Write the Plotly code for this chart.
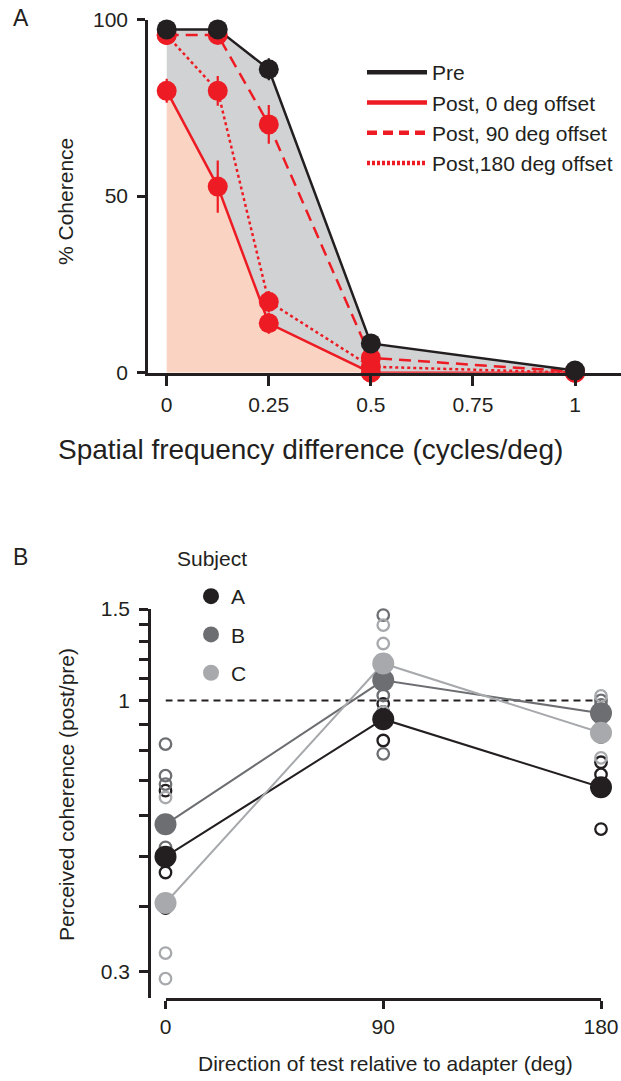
import math
import plotly.graph_objects as go

# ---------------- Panel A data ----------------
SF_DIFF = [0, 0.125, 0.25, 0.5, 1]
PRE = [97.2, 97.2, 85.9, 8.3, 0.6]
PRE_ERR = [1.0, 1.0, 3.1, 1.5, 0.5]
POST_0 = [79.8, 52.7, 14.0, 0.0, 0.0]
POST_0_ERR = [3.4, 7.4, 3.0, 0.5, 0.0]
POST_90 = [95.6, 95.6, 70.3, 4.2, 0.3]
POST_90_ERR = [1.0, 1.0, 5.5, 1.0, 0.0]
POST_180 = [95.6, 79.8, 20.1, 1.7, 0.0]
POST_180_ERR = [1.0, 4.2, 3.0, 1.0, 0.0]
A_TICKS = [0, 0.25, 0.5, 0.75, 1]
A_TICKTEXT = ["0", "0.25", "0.5", "0.75", "1"]
A_YTICKS = [0, 50, 100]
LEGEND_A = ["Pre", "Post, 0 deg offset", "Post, 90 deg offset", "Post,180 deg offset"]

# ---------------- Panel B data ----------------
DIRECTIONS = [0, 90, 180]
SUBJECTS = ["A", "B", "C"]
MEAN_A = [0.50, 0.92, 0.68]
MEAN_B = [0.577, 1.093, 0.945]
MEAN_C = [0.407, 1.178, 0.866]
IND_A_0 = [0.67, 0.466, 0.398]
IND_A_90 = [0.985, 0.837, 0.95]
IND_A_180 = [0.565, 0.76, 0.72]
IND_B_0 = [0.824, 0.716, 0.69, 0.521]
IND_B_90 = [1.46, 1.022, 0.789]
IND_B_180 = [1.0, 0.98, 0.85]
IND_C_0 = [0.65, 0.326, 0.291]
IND_C_90 = [1.397, 1.287, 0.95]
IND_C_180 = [1.02, 0.775, 0.86]
B_YTICKS = [0.3, 0.4, 0.5, 0.6, 0.7, 0.8, 0.9, 1.0, 1.1, 1.2, 1.3, 1.4, 1.5]
B_YTICKTEXT = ["0.3", "", "", "", "", "", "", "1", "", "", "", "", "1.5"]
REFERENCE_RATIO = 1.0

# ---------------- styles ----------------
W, H = 621, 1081
BLACK = "#231f20"
RED = "#ed1c24"
SALMON = "#fad3c3"
GRAYFILL = "#d1d2d3"
SUBJ_COLORS = {"A": "#231f20", "B": "#6d6e71", "C": "#a7a9ac"}
FONT = "Liberation Sans, Arial, Helvetica, sans-serif"
FS = 21


def px(x):
    return x / W


def py(y):
    return 1 - y / H


fig = go.Figure()

# --- Panel A fills ---
fig.add_trace(go.Scatter(x=SF_DIFF, y=POST_0, mode="none", fill="tozeroy",
                         fillcolor=SALMON, showlegend=False, hoverinfo="skip",
                         xaxis="x", yaxis="y"))
fig.add_trace(go.Scatter(x=SF_DIFF, y=PRE, mode="none", fill="tonexty",
                         fillcolor=GRAYFILL, showlegend=False, hoverinfo="skip",
                         xaxis="x", yaxis="y"))

# --- Panel A lines ---
series = [
    (POST_180, POST_180_ERR, RED, "dot"),
    (POST_90, POST_90_ERR, RED, "12px,7px"),
    (POST_0, POST_0_ERR, RED, "solid"),
    (PRE, PRE_ERR, BLACK, "solid"),
]
for ys, err, col, dash in series:
    fig.add_trace(go.Scatter(
        x=SF_DIFF, y=ys, mode="lines",
        line=dict(color=col, width=2.5, dash=dash),
        showlegend=False, cliponaxis=False, xaxis="x", yaxis="y"))
for ys, err, col, dash in series:
    fig.add_trace(go.Scatter(
        x=SF_DIFF, y=ys, mode="markers",
        marker=dict(color=col, size=20),
        error_y=dict(type="data", array=err, visible=True, color=col,
                     thickness=2.2, width=0),
        showlegend=False, cliponaxis=False, xaxis="x", yaxis="y"))

# legend-only traces for panel A
leg_styles = [(BLACK, "solid"), (RED, "solid"), (RED, "10px,6px"), (RED, "3px,2px")]
for name, (col, dash) in zip(LEGEND_A, leg_styles):
    fig.add_trace(go.Scatter(x=[None], y=[None], mode="lines", name=name,
                             line=dict(color=col, width=4.5, dash=dash),
                             legend="legend", xaxis="x", yaxis="y"))

# --- Panel B ---
fig.add_trace(go.Scatter(x=[DIRECTIONS[0], DIRECTIONS[-1]],
                         y=[REFERENCE_RATIO, REFERENCE_RATIO], mode="lines",
                         line=dict(color=BLACK, width=2, dash="7px,5px"),
                         showlegend=False, xaxis="x2", yaxis="y2"))

individual = {
    "A": [IND_A_0, IND_A_90, IND_A_180],
    "B": [IND_B_0, IND_B_90, IND_B_180],
    "C": [IND_C_0, IND_C_90, IND_C_180],
}
means = {"A": MEAN_A, "B": MEAN_B, "C": MEAN_C}

for s in SUBJECTS:
    xs, ys = [], []
    for d, vals in zip(DIRECTIONS, individual[s]):
        xs += [d] * len(vals)
        ys += vals
    fig.add_trace(go.Scatter(x=xs, y=ys, mode="markers",
                             marker=dict(symbol="circle-open", size=11.5,
                                         color=SUBJ_COLORS[s],
                                         line=dict(width=2.3, color=SUBJ_COLORS[s])),
                             showlegend=False, cliponaxis=False,
                             xaxis="x2", yaxis="y2"))

for s in ["B", "A", "C"]:
    fig.add_trace(go.Scatter(x=DIRECTIONS, y=means[s], mode="lines",
                             line=dict(color=SUBJ_COLORS[s], width=2),
                             showlegend=False, cliponaxis=False,
                             xaxis="x2", yaxis="y2"))
for s in ["B", "A", "C"]:
    fig.add_trace(go.Scatter(x=DIRECTIONS, y=means[s], mode="markers",
                             marker=dict(color=SUBJ_COLORS[s], size=22),
                             showlegend=False, cliponaxis=False,
                             xaxis="x2", yaxis="y2"))

for s in SUBJECTS:
    fig.add_trace(go.Scatter(x=[None], y=[None], mode="markers", name=s,
                             legendgroup=s,
                             marker=dict(color=SUBJ_COLORS[s], size=22),
                             legend="legend2", xaxis="x2", yaxis="y2"))

axis_common = dict(showgrid=False, zeroline=False, showline=True,
                   automargin=False,
                   linecolor=BLACK, linewidth=2.5, ticks="outside",
                   tickcolor=BLACK, tickwidth=2.5,
                   tickfont=dict(size=FS, color=BLACK, family=FONT))

x0_px, x1_px = 166.7, 575.0
scale = (x1_px - x0_px) / 1.0

ylog_top = math.log10(1.5)
ylog_bot = ylog_top - (998 - 609) / 519.0


def ann(text, x, y, size=FS, angle=0):
    return dict(text=text, x=px(x), y=py(y), xref="paper", yref="paper",
                xanchor="center", yanchor="middle", textangle=angle,
                showarrow=False, font=dict(size=size, family=FONT, color=BLACK))


fig.update_layout(
    template="none",
    width=W, height=H, autosize=False,
    margin=dict(l=0, r=0, t=0, b=0, pad=0, autoexpand=False),
    paper_bgcolor="white", plot_bgcolor="rgba(0,0,0,0)",
    font=dict(family=FONT, size=FS, color=BLACK),
    xaxis=dict(domain=[px(148), 1.0],
               range=[(148 - x0_px) / scale, (621 - x0_px) / scale],
               tickvals=A_TICKS, ticktext=A_TICKTEXT, ticklen=11,
               anchor="y", **axis_common),
    yaxis=dict(domain=[py(372.7), py(19.5)], range=[0, 100],
               tickvals=A_YTICKS, ticklen=8, anchor="x",
               ticklabelstandoff=5, **axis_common),
    xaxis2=dict(domain=[px(165.5), px(601)], range=[0, 180],
                tickvals=DIRECTIONS, ticklen=8, anchor="y2", **axis_common),
    yaxis2=dict(domain=[py(998), py(609)], type="log",
                range=[ylog_bot, ylog_top],
                tickvals=B_YTICKS, ticktext=B_YTICKTEXT, ticklen=9,
                anchor="free", position=px(149),
                ticklabelstandoff=5, **axis_common),
    legend=dict(x=px(362), y=py(52), xanchor="left", yanchor="top",
                traceorder="normal",
                bgcolor="rgba(0,0,0,0)", font=dict(size=FS, family=FONT, color=BLACK),
                itemwidth=60, tracegroupgap=0),
    legend2=dict(x=px(191), y=py(576), xanchor="left", yanchor="top",
                 traceorder="grouped", tracegroupgap=8,
                 bgcolor="rgba(0,0,0,0)", font=dict(size=FS, family=FONT, color=BLACK)),
    annotations=[
        ann("A", 21, 18, size=23),
        ann("B", 20, 557, size=23),
        ann("Subject", 211.5, 558),
        ann("% Coherence", 66, 202, angle=-90),
        ann("Spatial frequency difference (cycles/deg)", 310, 450, size=28),
        ann("Perceived coherence (post/pre)", 66, 795, angle=-90),
        ann("Direction of test relative to adapter (deg)", 385, 1063),
    ],
)

fig.write_html("out.html", config={"displayModeBar": False},
               post_script="document.body.style.margin='0px';"
                           "document.body.style.overflow='hidden';")
